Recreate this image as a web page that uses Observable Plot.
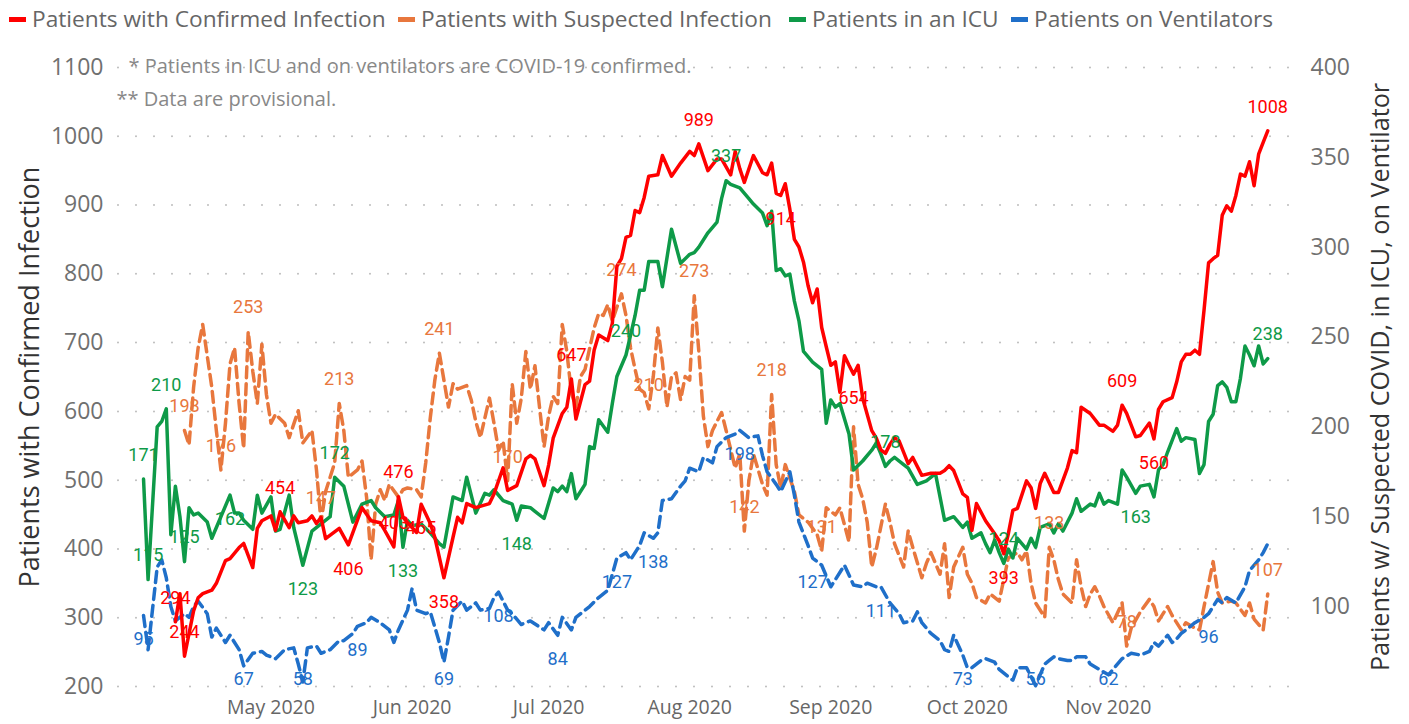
<!DOCTYPE html>
<html><head><meta charset="utf-8">
<script src="https://cdn.jsdelivr.net/npm/d3@7"></script>
<script src="https://cdn.jsdelivr.net/npm/@observablehq/plot@0.6"></script>
<style>
body{margin:0;background:#fff;font-family:"Open Sans",sans-serif;}
#legend{position:relative;height:40px;width:1409px;}
.item{position:absolute;top:4px;display:flex;align-items:center;font-size:22.7px;color:#666;white-space:nowrap;line-height:30px;}
.sw{width:17px;height:5px;margin-right:6px;}
#chart svg{display:block;}
</style></head><body>
<div id="legend"></div><div id="chart"></div>
<script>
// ---- data (day = days since 2020-04-03) ----
const seriesNames = ["Patients with Confirmed Infection","Patients with Suspected Infection","Patients in an ICU","Patients on Ventilators"];
const seriesColors = ["#ff0000","#e8773d","#0e9a48","#1f6fc9"];

const confirmed = [[7,294],[8,335],[9,244],[11,310],[12,329],[13,335],[15,340],[16,350],[18,383],[19,386],[21,402],[22,408],[24,373],[25,430],[26,441],[28,448],[29,427],[30,454],[32,431],[33,448],[34,438],[36,441],[37,448],[38,437],[39,446],[40,415],[43,430],[45,406],[48,460],[50,441],[52,438],[53,427],[55,403],[56,476],[57,446],[59,431],[60,424],[61,465],[63,437],[64,417],[66,358],[68,417],[69,446],[70,438],[71,466],[73,460],[76,466],[77,480],[79,518],[80,485],[82,492],[84,531],[85,536],[86,531],[88,492],[89,522],[90,561],[92,597],[93,606],[94,647],[95,589],[97,639],[98,644],[99,689],[100,711],[102,703],[103,728],[104,811],[105,822],[106,853],[107,856],[108,892],[109,889],[110,911],[111,942],[113,944],[114,972],[116,942],[118,961],[120,978],[121,972],[122,989],[124,950],[126,967],[127,967],[129,944],[130,978],[131,953],[132,933],[134,972],[136,947],[137,944],[138,961],[139,917],[140,914],[141,931],[142,894],[143,850],[144,839],[145,817],[146,783],[147,758],[148,778],[149,722],[150,694],[151,667],[152,672],[153,628],[154,681],[155,667],[156,654],[157,667],[158,619],[160,572],[161,561],[162,544],[163,539],[164,552],[165,562],[166,557],[168,524],[169,533],[171,507],[173,510],[175,510],[176,514],[177,521],[178,514],[180,480],[181,475],[182,427],[183,466],[185,441],[187,422],[188,412],[189,393],[190,422],[191,456],[192,459],[194,499],[195,489],[196,459],[197,495],[198,510],[200,482],[201,482],[203,518],[204,543],[205,540],[206,606],[208,597],[210,580],[211,580],[213,571],[214,580],[215,609],[216,597],[218,563],[219,565],[221,583],[222,560],[223,603],[224,614],[226,620],[227,643],[228,672],[229,683],[230,683],[231,689],[232,683],[233,747],[234,816],[235,822],[236,827],[237,885],[238,899],[239,891],[240,914],[241,945],[242,942],[243,963],[244,928],[245,974],[246,991],[247,1008]];

const suspected = [[9,198],[10,190],[11,222],[12,244],[13,257],[15,222],[16,198],[17,176],[18,202],[19,235],[20,244],[21,213],[22,188],[23,253],[24,231],[25,213],[26,246],[27,218],[28,202],[29,207],[31,202],[32,194],[34,209],[35,191],[37,198],[38,176],[39,147],[40,164],[42,180],[43,213],[44,198],[45,172],[47,176],[48,181],[49,161],[50,126],[51,157],[52,165],[53,159],[54,168],[56,161],[57,165],[58,166],[60,165],[61,161],[62,180],[63,205],[64,226],[65,241],[66,226],[67,211],[68,224],[69,221],[71,223],[72,215],[73,203],[74,194],[76,216],[77,202],[78,187],[79,192],[80,170],[81,224],[82,202],[83,216],[84,242],[85,221],[86,234],[87,211],[88,189],[89,206],[90,217],[91,213],[92,257],[93,242],[94,219],[95,211],[96,228],[97,232],[99,255],[100,263],[101,262],[102,268],[103,259],[105,274],[106,262],[107,244],[108,232],[109,221],[110,219],[111,210],[112,228],[113,255],[114,236],[115,211],[116,228],[117,230],[118,215],[119,228],[120,226],[121,273],[122,242],[123,206],[124,189],[125,198],[127,208],[128,198],[130,177],[131,185],[132,142],[133,170],[134,185],[136,168],[137,162],[138,218],[139,179],[140,166],[141,179],[143,164],[144,151],[146,147],[148,140],[149,131],[150,155],[152,151],[153,155],[155,136],[156,200],[157,168],[158,160],[159,147],[160,122],[161,132],[163,157],[164,147],[165,135],[167,122],[168,142],[169,133],[171,116],[172,124],[173,130],[175,118],[176,135],[177,105],[178,122],[180,133],[181,118],[182,113],[183,105],[185,102],[186,107],[188,103],[189,115],[190,127],[192,130],[193,126],[194,131],[195,113],[196,102],[198,94],[199,133],[200,126],[201,115],[202,107],[204,102],[205,126],[206,111],[207,100],[208,107],[209,111],[210,106],[211,100],[213,91],[215,102],[216,78],[217,88],[219,97],[221,104],[222,100],[223,92],[225,100],[226,95],[228,87],[229,91],[231,88],[232,87],[233,100],[235,125],[236,108],[237,102],[239,103],[240,102],[242,95],[243,102],[244,93],[246,87],[247,107]];

const icu = [[0,171],[1,115],[3,200],[4,203],[5,210],[6,140],[7,167],[8,150],[9,125],[10,155],[11,151],[12,152],[14,147],[15,138],[16,144],[19,162],[20,152],[21,152],[22,148],[24,143],[25,162],[26,152],[28,161],[29,142],[30,143],[32,162],[33,144],[35,123],[37,142],[39,146],[41,150],[42,172],[44,167],[46,147],[48,157],[50,159],[51,155],[53,150],[55,151],[56,159],[57,133],[58,148],[59,145],[61,146],[63,141],[65,135],[66,133],[68,161],[70,159],[71,172],[73,152],[75,163],[76,162],[77,165],[79,159],[81,157],[82,148],[83,156],[85,155],[86,153],[88,149],[90,166],[91,164],[92,167],[93,164],[94,174],[95,160],[97,168],[98,189],[99,188],[100,204],[102,197],[103,213],[104,228],[106,240],[108,262],[109,276],[110,276],[111,292],[113,292],[114,278],[116,310],[118,291],[120,296],[121,297],[122,300],[124,308],[126,314],[127,327],[128,337],[129,335],[131,333],[133,327],[134,324],[136,319],[137,312],[138,320],[139,287],[140,288],[141,284],[142,285],[143,270],[144,259],[145,242],[147,236],[149,232],[150,202],[151,215],[152,211],[153,213],[155,196],[156,176],[158,181],[160,187],[161,191],[162,185],[163,178],[164,181],[165,183],[167,179],[168,177],[170,168],[172,170],[174,174],[176,148],[178,150],[180,144],[181,147],[182,138],[184,141],[185,135],[186,130],[187,137],[188,130],[189,124],[190,132],[191,127],[192,138],[194,132],[195,138],[196,133],[197,144],[199,146],[200,141],[201,146],[202,142],[204,152],[205,160],[206,153],[208,157],[209,156],[210,163],[211,157],[212,159],[214,157],[215,176],[216,172],[218,163],[219,167],[221,168],[222,161],[223,176],[224,179],[225,186],[227,199],[228,192],[229,194],[231,193],[232,174],[233,179],[234,203],[235,207],[236,223],[237,225],[238,222],[239,214],[240,214],[241,227],[242,245],[243,240],[244,234],[245,245],[246,235],[247,238]];

const ventilators = [[0,95],[1,76],[3,122],[4,126],[5,116],[6,100],[7,92],[9,96],[10,94],[11,100],[12,103],[14,96],[15,83],[16,88],[18,80],[19,84],[21,76],[22,67],[24,74],[26,75],[27,73],[29,71],[31,76],[33,77],[34,68],[35,58],[36,77],[38,78],[39,74],[41,76],[43,81],[44,81],[46,85],[47,89],[49,91],[50,94],[52,91],[54,87],[55,80],[56,87],[58,98],[59,110],[60,98],[62,96],[63,97],[65,80],[66,69],[67,83],[68,98],[70,103],[71,98],[73,102],[74,98],[76,99],[77,105],[78,108],[80,98],[81,96],[83,90],[85,92],[88,87],[89,91],[91,84],[92,94],[94,87],[95,94],[98,100],[100,105],[102,109],[104,127],[106,130],[107,126],[109,134],[110,141],[112,138],[113,141],[114,159],[116,160],[118,167],[119,170],[120,177],[122,175],[123,183],[125,180],[126,189],[128,194],[130,196],[131,198],[133,194],[135,195],[136,184],[137,175],[139,168],[140,164],[142,175],[143,162],[144,147],[146,134],[147,127],[149,123],[151,111],[152,115],[154,123],[156,112],[158,111],[159,113],[161,111],[162,111],[164,102],[166,96],[167,91],[169,92],[170,97],[171,91],[173,85],[175,81],[176,76],[177,75],[178,84],[180,73],[181,66],[182,66],[184,70],[185,71],[187,69],[188,65],[190,61],[191,59],[192,66],[194,66],[195,61],[196,56],[198,68],[199,70],[200,72],[201,71],[203,70],[204,70],[205,72],[207,72],[208,68],[210,65],[212,62],[213,65],[215,71],[217,74],[219,73],[221,75],[222,80],[223,78],[225,84],[226,80],[227,82],[228,85],[231,91],[233,94],[234,96],[236,104],[237,102],[238,105],[240,102],[242,111],[243,120],[245,126],[246,130],[247,135]];

// days that carry a data label
const confirmedLabelDays = [7,9,30,45,55,56,61,66,94,122,140,156,189,215,222,247];
const suspectedLabelDays = [9,17,23,39,43,65,80,105,111,121,132,138,149,199,216,247];
const icuLabelDays = [0,1,5,9,19,35,42,57,82,106,128,163,189,218,247];
const ventilatorLabelDays = [0,22,35,47,66,78,91,104,112,131,147,162,180,196,212,234];

const leftTicks = [200,300,400,500,600,700,800,900,1000,1100];
const rightTicks = [100,150,200,250,300,350,400];
const notes = ["* Patients in ICU and on ventilators are COVID-19 confirmed.", "** Data are provisional."];
const leftTitle = "Patients with Confirmed Infection";
const rightTitle = "Patients w/ Suspected COVID, in ICU, on Ventilator";

// ---- label placement (style) ----
const belowLabels = [[45,61,66,140,156,189,222], [], [19,35,57,82,218], ventilatorLabelDays];

// ---- helpers ----
const DAY0 = Date.UTC(2020,3,3);
const toDate = d => new Date(DAY0 + d*864e5);
const R0 = 55.5, R1 = 400, L0 = 200, L1 = 1100;
const toLeft = r => L0 + (r - R0)*(L1 - L0)/(R1 - R0);
const fromLeft = l => R0 + (l - L0)*(R1 - R0)/(L1 - L0);
const PLOT_H = 684 - 27 - 38;            // pixel height of the frame
const pxToUnits = px => px*(L1 - L0)/PLOT_H;
const labelGap = pxToUnits(24), labelFloor = L0 + pxToUnits(7);

const seriesData = [confirmed, suspected, icu, ventilators];
const seriesLabels = [confirmedLabelDays, suspectedLabelDays, icuLabelDays, ventilatorLabelDays];
const onRight = [false, true, true, true];
const dashes = [null, "11,6", null, "11,6"];

const rows = seriesData.map((s,i) => s.map(([d,v]) => ({date: toDate(d), y: onRight[i] ? toLeft(v) : v, v, day: d, i})));
const labelRows = rows.flatMap((r,i) => r.filter(p => seriesLabels[i].includes(p.day)).map(p => {
  const below = belowLabels[i].includes(p.day);
  return {...p, ly: below ? Math.max(p.y - labelGap, labelFloor) : p.y + labelGap};
}));

// legend
const legendX = [9, 398, 789, 1011];
const lg = d3.select("#legend");
seriesNames.forEach((n,i) => {
  const it = lg.append("div").attr("class","item").style("left", legendX[i]+"px");
  it.append("div").attr("class","sw").style("background", seriesColors[i]);
  it.append("span").text(n);
});

const drawOrder = [1,3,2,0];

const chart = Plot.plot({
  width: 1409, height: 684,
  marginLeft: 118, marginRight: 119, marginTop: 27, marginBottom: 38,
  style: {fontFamily: "'Open Sans', sans-serif", background: "#fff", overflow: "visible"},
  x: {type: "utc", domain: [new Date(Date.UTC(2020,2,28,12)), new Date(Date.UTC(2020,11,11))]},
  y: {domain: [L0, L1]},
  marks: [
    Plot.ruleY(leftTicks, {stroke: "#bdbdbd", strokeWidth: 2, strokeDasharray: "0,18", strokeLinecap: "round"}),
    Plot.axisY(leftTicks, {anchor: "left", tickSize: 0, tickPadding: 15, fontSize: 23, color: "#707070", label: null, tickFormat: d => String(d)}),
    Plot.axisY(rightTicks.map(toLeft), {anchor: "right", tickSize: 0, tickPadding: 20, fontSize: 23, color: "#707070", label: null, tickFormat: v => String(Math.round(fromLeft(v)))}),
    Plot.axisX(d3.utcMonth.range(new Date(Date.UTC(2020,4,1)), new Date(Date.UTC(2020,10,2))), {tickSize: 0, tickPadding: 14, fontSize: 19.5, color: "#666", label: null, tickFormat: d3.utcFormat("%b %Y")}),
    ...drawOrder.map(i => Plot.line(rows[i], {x: "date", y: "y", stroke: seriesColors[i], strokeWidth: 3.5, strokeLinejoin: "round", strokeDasharray: dashes[i]})),
    ...drawOrder.map(i => Plot.text(labelRows.filter(p => p.i === i), {x: "date", y: "ly", text: d => String(d.v), fill: seriesColors[i], fontSize: 18, fontFamily: "Roboto, sans-serif"})),
    Plot.text([notes[0]], {frameAnchor: "top-left", dx: 10, dy: -1, fontSize: 20, fill: "#888", textAnchor: "start", lineAnchor: "middle"}),
    Plot.text([notes[1]], {frameAnchor: "top-left", dx: -2, dy: 32, fontSize: 20, fill: "#888", textAnchor: "start", lineAnchor: "middle"}),
    Plot.text([leftTitle], {frameAnchor: "left", dx: -88, rotate: -90, textAnchor: "middle", fontSize: 27, fill: "#333"}),
    Plot.text([rightTitle], {frameAnchor: "right", dx: 90, rotate: -90, textAnchor: "middle", fontSize: 25.2, fill: "#333"})
  ]
});
document.getElementById("chart").append(chart);
</script></body></html>
